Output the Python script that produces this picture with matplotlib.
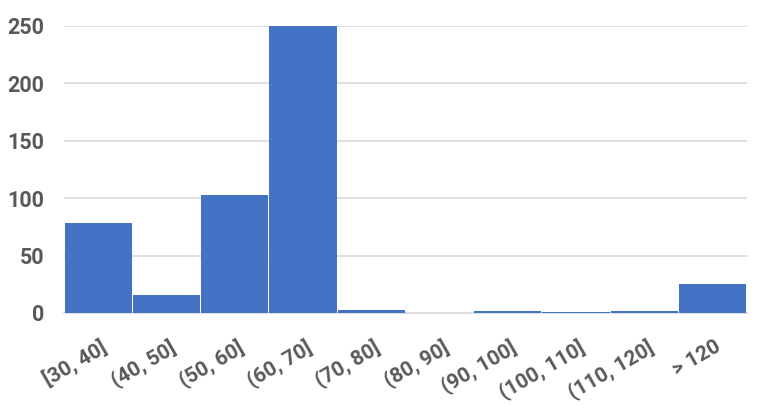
import matplotlib
matplotlib.use("Agg")
import matplotlib.pyplot as plt
import matplotlib.transforms as mtransforms
import numpy as np

categories = ["[30, 40]", "(40, 50]", "(50, 60]", "(60, 70]", "(70, 80]",
              "(80, 90]", "(90, 100]", "(100, 110]", "(110, 120]", "> 120"]
counts = [78, 16, 103, 250, 3, 0, 2, 1, 2, 25]

plt.rcParams['font.family'] = ['Roboto', 'DejaVu Sans']

fig = plt.figure(figsize=(7.62, 4.19), dpi=100)
ax = fig.add_axes([0.084, 0.253, 0.896, 0.685])

x = np.arange(len(categories))
ax.bar(x, counts, width=0.985, color="#4472C4", linewidth=0, zorder=3)

ax.set_xlim(-0.5, len(categories) - 0.5)
ax.set_ylim(0, 250)
ax.set_yticks([0, 50, 100, 150, 200, 250])
ax.yaxis.grid(True, color="#D9D9D9", linewidth=1.2, zorder=0)
ax.set_axisbelow(True)

for s in ["top", "right", "left"]:
    ax.spines[s].set_visible(False)
ax.spines["bottom"].set_color("#D9D9D9")
ax.spines["bottom"].set_linewidth(1.2)

ax.tick_params(axis="both", length=0, colors="#595959")
ax.tick_params(axis="y", pad=14)
ax.tick_params(axis="x", pad=17)
ax.set_xticks(x)
ax.set_xticklabels(categories, rotation=30, ha="right", rotation_mode="anchor")
for lab in ax.get_yticklabels():
    lab.set_fontsize(15.5)
    lab.set_fontweight("bold")
    lab.set_color("#595959")
offset = mtransforms.ScaledTranslation(2 / 100, 0, fig.dpi_scale_trans)
for lab in ax.get_xticklabels():
    lab.set_fontsize(15)
    lab.set_fontweight("bold")
    lab.set_color("#595959")
    lab.set_transform(lab.get_transform() + offset)

fig.savefig("out.png", dpi=100)
